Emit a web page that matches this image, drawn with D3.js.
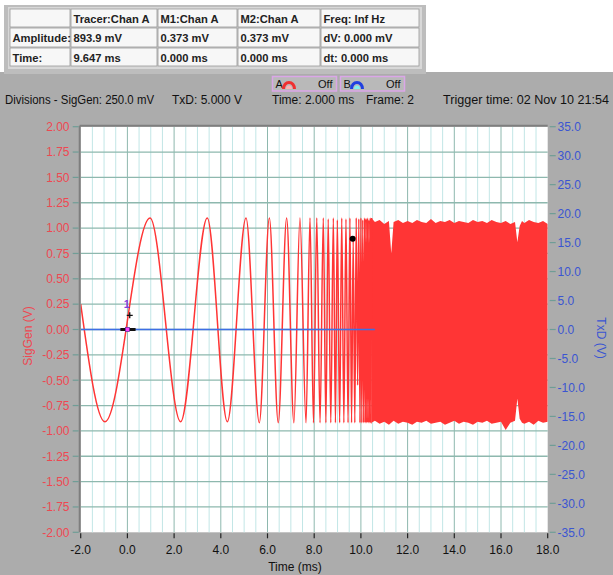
<!DOCTYPE html>
<html><head><meta charset="utf-8">
<script src="https://cdn.jsdelivr.net/npm/d3@7"></script>
<style>
body{margin:0;padding:0;background:#fff;}
svg{display:block;font-family:"Liberation Sans",Arial,sans-serif;}
</style></head>
<body>
<svg id="c" width="613" height="575"></svg>
<script>
// ---------------- DATA ----------------
const xTicks = [-2, 0, 2, 4, 6, 8, 10, 12, 14, 16, 18];
const yLeftTicks = [2.00, 1.75, 1.50, 1.25, 1.00, 0.75, 0.50, 0.25, 0.00, -0.25, -0.50, -0.75, -1.00, -1.25, -1.50, -1.75, -2.00];
const yRightTicks = [35, 30, 25, 20, 15, 10, 5, 0, -5, -10, -15, -20, -25, -30, -35];
// SigGen waveform turning points (ms, V)
const sigTime = [-2.0, -0.96, 0.97, 2.28, 3.42, 4.28, 5.08, 5.65, 6.08, 6.46, 6.82, 7.13, 7.39, 7.65, 7.82,
  7.97, 8.11, 8.25, 8.39, 8.50, 8.60, 8.71, 8.82, 8.91, 8.99, 9.09, 9.18, 9.27, 9.36, 9.45, 9.53, 9.60, 9.67,
  9.74, 9.80, 9.86, 9.91, 9.96, 10.00, 10.04, 10.08, 10.12, 10.16, 10.19, 10.22, 10.25, 10.28, 10.31, 10.34,
  10.37, 10.40, 10.43, 10.46];
const sigValue = [0.25, -0.91, 1.10, -0.91, 1.10, -0.91, 1.10, -0.92, 1.10, -0.92, 1.10, -0.92, 1.10, -0.92, 1.10,
  -0.92, 1.10, -0.92, 1.10, -0.92, 1.09, -0.92, 1.10, -0.92, 1.08, -0.92, 1.10, -0.92, 1.09, -0.92, 1.10, -0.92, 0.89,
  -0.92, 1.10, -0.55, 1.09, -0.92, 1.10, -0.92, 1.08, -0.92, 1.10, -0.92, 1.09, -0.92, 1.10, -0.92, 1.08,
  -0.92, 1.10, -0.92, 1.10];
// dense part envelope (ms, upper V, lower V)
const envTime  = [10.45, 10.6, 10.8, 11.0, 11.2, 11.3, 11.4, 11.6, 11.8, 12.0, 12.2, 12.4, 12.6, 12.8, 13.0, 13.2, 13.4, 13.6, 13.8, 14.0, 14.2,
  14.4, 14.6, 14.8, 15.0, 15.2, 15.4, 15.6, 15.8, 16.0, 16.2, 16.4, 16.6, 16.7, 16.8, 16.9, 17.0, 17.2, 17.4, 17.6, 17.8, 18.0];
const envUpper = [1.10, 1.06, 1.08, 1.04, 1.07, 0.75, 1.06, 1.08, 1.05, 1.07, 1.05, 1.08, 1.06, 1.05, 1.09, 1.05, 1.07, 1.06, 1.08, 1.05, 1.07,
  1.06, 1.05, 1.08, 1.06, 1.07, 1.05, 1.08, 1.06, 1.05, 1.07, 1.04, 1.06, 0.86, 1.02, 1.07, 1.05, 1.08, 1.06, 1.05, 1.07, 1.04];
const envLower = [-0.92, -0.90, -0.93, -0.91, -0.94, -0.92, -0.90, -0.93, -0.91, -0.92, -0.94, -0.91, -0.92, -0.90, -0.93, -0.92, -0.91, -0.94, -0.92, -0.90, -0.93,
  -0.91, -0.92, -0.94, -0.91, -0.92, -0.90, -0.93, -0.92, -0.91, -0.99, -0.92, -0.90, -0.68, -0.88, -0.92, -0.93, -0.91, -0.94, -0.90, -0.92, -0.91];
// TxD trace (ms, V)
const txdTime = [-2.0, 10.6];
const txdValue = [0, 0];
// tracer & marker
const tracer = {t: 9.647, v: 0.8939};
const tableHeader = ["", "Tracer:Chan A", "M1:Chan A", "M2:Chan A", "Freq: Inf Hz"];
const tableRows = [["Amplitude:", "893.9 mV", "0.373 mV", "0.373 mV", "dV: 0.000 mV"],
                   ["Time:", "9.647 ms", "0.000 ms", "0.000 ms", "dt:  0.000 ms"]];
const divisionTexts = [["Divisions -  SigGen: 250.0 mV", 5, 149], ["TxD: 5.000 V", 172, null], ["Time: 2.000 ms", 272, null], ["Frame: 2", 366, null], ["Trigger time: 02 Nov 10 21:54", 443, 166]];

// ---------------- LAYOUT ----------------
const svg = d3.select("#c");
const L = 80.7, R = 547.7, T = 126.7, B = 532.3;
const x = d3.scaleLinear().domain([-2, 18]).range([L, R]);
const y = d3.scaleLinear().domain([-2, 2]).range([B, T]);
const y2 = d3.scaleLinear().domain([-35, 35]).range([B, T]);

const RED = "#ff3535", LRED = "#ee4852", BLUE = "#3a55d2";

// window background
svg.append("rect").attr("x", 0).attr("y", 72).attr("width", 613).attr("height", 503).attr("fill", "#acacac");

// table
const colX = [10, 71, 158, 238, 321, 420];
const rowY = [9, 28, 48, 67];
svg.append("rect").attr("x", 4).attr("y", 5).attr("width", 422).attr("height", 69).attr("fill", "#bdbdbd");
svg.append("rect").attr("x", 8).attr("y", 7).attr("width", 414).attr("height", 62).attr("fill", "#d8d8d8");
const allRows = [tableHeader, ...tableRows];
allRows.forEach((row, ri) => {
  row.forEach((txt, ci) => {
    svg.append("rect").attr("x", colX[ci]).attr("y", rowY[ri])
      .attr("width", colX[ci + 1] - colX[ci] - 1).attr("height", rowY[ri + 1] - rowY[ri] - 1)
      .attr("fill", "#f7f7f7").attr("stroke", "#9a9a9a").attr("stroke-width", 0.8);
    svg.append("text").attr("x", colX[ci] + 2.5).attr("y", rowY[ri] + 14)
      .attr("font-size", 11.2).attr("font-weight", "bold").attr("fill", "#222").text(txt);
  });
});

// legend boxes
function legendBox(x0, label, c1, c2) {
  svg.append("rect").attr("x", x0).attr("y", 76.5).attr("width", 64).attr("height", 14.5)
    .attr("fill", "#b9b9b9").attr("stroke", "#dba6e8").attr("stroke-width", 1.5);
  svg.append("text").attr("x", x0 + 3).attr("y", 88).attr("font-size", 11).attr("fill", "#111").text(label);
  svg.append("path").attr("d", `M${x0 + 11},${89} a5,6 0 0 1 11,0`).attr("fill", "none").attr("stroke", c1).attr("stroke-width", 3);
  svg.append("path").attr("d", `M${x0 + 13.5},${89} a3,3.5 0 0 1 6,0`).attr("fill", c2).attr("stroke", "none");
  svg.append("text").attr("x", x0 + 60).attr("y", 88).attr("text-anchor", "end").attr("font-size", 11).attr("fill", "#111").text("Off");
}
legendBox(272.5, "A", "#f03030", "#ffb0b0");
legendBox(340.5, "B", "#2040e0", "#80f0f0");

// divisions line
divisionTexts.forEach(([t, px, w]) => {
  const tx = svg.append("text").attr("x", px).attr("y", 104).attr("font-size", 12).attr("fill", "#111").text(t);
  if (w) tx.attr("textLength", w).attr("lengthAdjust", "spacingAndGlyphs");
});

// plot area
svg.append("rect").attr("x", L).attr("y", T).attr("width", R - L).attr("height", B - T).attr("fill", "#fff");
// minor vertical grid
const minorX = d3.range(-2, 18.001, 0.5).filter(v => Math.abs(v / 2 - Math.round(v / 2)) > 1e-6);
svg.append("g").selectAll("line").data(minorX).join("line")
  .attr("x1", d => x(d)).attr("x2", d => x(d)).attr("y1", T).attr("y2", B)
  .attr("stroke", "#c2e6e6").attr("stroke-width", 1);
// major grid
svg.append("g").selectAll("line").data(xTicks.slice(1, -1)).join("line")
  .attr("x1", d => x(d)).attr("x2", d => x(d)).attr("y1", T).attr("y2", B)
  .attr("stroke", "#8eb8ae").attr("stroke-width", 1);
svg.append("g").selectAll("line").data(yLeftTicks.slice(1, -1)).join("line")
  .attr("x1", L).attr("x2", R).attr("y1", d => y(d)).attr("y2", d => y(d))
  .attr("stroke", "#8eb8ae").attr("stroke-width", 1.3);

const txdData = txdTime.map((t, i) => ({t, v: txdValue[i]}));
const sigData = sigTime.map((t, i) => ({t, v: sigValue[i]}));
const envData = envTime.map((t, i) => ({t, u: envUpper[i], l: envLower[i]}));
svg.append("clipPath").attr("id", "pc").append("rect").attr("x", L).attr("y", T).attr("width", R - L).attr("height", B - T);
const pg = svg.append("g").attr("clip-path", "url(#pc)");
pg.append("path").datum(envData)
  .attr("d", d3.area().x(d => x(d.t)).y0(d => y(d.l)).y1(d => y(d.u)))
  .attr("fill", RED);
pg.append("path").datum(sigData)
  .attr("d", d3.line().x(d => x(d.t)).y(d => y(d.v)).curve(d3.curveMonotoneX))
  .attr("fill", "none").attr("stroke", RED).attr("stroke-width", 1.5);
pg.append("path").datum(txdData)
  .attr("d", d3.line().x(d => x(d.t)).y(d => y2(d.v)))
  .attr("fill", "none").attr("stroke", "#3d6fe6").attr("stroke-width", 1.3);

// markers
pg.append("rect").attr("x", x(-0.3)).attr("y", y(0) - 1.5).attr("width", x(0.35) - x(-0.3)).attr("height", 3).attr("fill", "#111");
pg.append("rect").attr("x", x(0) - 2).attr("y", y(0) - 2).attr("width", 4).attr("height", 4).attr("fill", "#ff40ff").attr("stroke", "#7030a0").attr("stroke-width", 0.8);
pg.append("path").attr("d", `M${x(0.1) - 3},${y(0.14)}h6M${x(0.1)},${y(0.14) - 3}v6`).attr("stroke", "#111").attr("stroke-width", 1.3);
svg.append("text").attr("x", x(0) - 0.5).attr("y", y(0.21)).attr("text-anchor", "middle").attr("font-size", 11).attr("font-weight", "bold").attr("fill", "#8040e0").text("1");
pg.append("circle").attr("cx", x(tracer.t)).attr("cy", y(tracer.v)).attr("r", 3).attr("fill", "#000");

// frame sunken edges
svg.append("line").attr("x1", L - 1).attr("x2", L - 1).attr("y1", T - 1).attr("y2", B).attr("stroke", "#7e7e7e").attr("stroke-width", 2);
svg.append("line").attr("x1", L - 1).attr("x2", R).attr("y1", T - 1).attr("y2", T - 1).attr("stroke", "#7e7e7e").attr("stroke-width", 2);

// left axis
const gl = svg.append("g");
gl.selectAll("line").data(yLeftTicks).join("line")
  .attr("x1", L - 8).attr("x2", L - 2).attr("y1", d => y(d)).attr("y2", d => y(d))
  .attr("stroke", "#6f9d96").attr("stroke-width", 1.2);
gl.selectAll("text").data(yLeftTicks).join("text")
  .attr("x", 69.5).attr("y", d => y(d) + 4.3).attr("text-anchor", "end")
  .attr("font-size", 12).attr("fill", LRED).text(d => d.toFixed(2));
// right axis
const gr = svg.append("g");
gr.selectAll("line").data(yRightTicks).join("line")
  .attr("x1", R + 2).attr("x2", R + 8).attr("y1", d => y2(d)).attr("y2", d => y2(d))
  .attr("stroke", "#6f9d96").attr("stroke-width", 1.2);
gr.selectAll("text").data(yRightTicks).join("text")
  .attr("x", 557.5).attr("y", d => y2(d) + 4.3)
  .attr("font-size", 12).attr("fill", BLUE).text(d => d.toFixed(1));
// bottom axis
const gb = svg.append("g");
gb.selectAll("line").data(xTicks).join("line")
  .attr("x1", d => x(d)).attr("x2", d => x(d)).attr("y1", B + 1).attr("y2", B + 6)
  .attr("stroke", "#222").attr("stroke-width", 1.2);
gb.selectAll("text").data(xTicks).join("text")
  .attr("x", d => x(d)).attr("y", 553.5).attr("text-anchor", "middle")
  .attr("font-size", 12).attr("fill", "#111").text(d => d.toFixed(1));

// axis titles
svg.append("text").attr("x", 295).attr("y", 571).attr("text-anchor", "middle").attr("font-size", 12).attr("fill", "#111").text("Time (ms)");
svg.append("text").attr("transform", "translate(32,336) rotate(-90)").attr("text-anchor", "middle").attr("font-size", 12).attr("fill", LRED).text("SigGen (V)");
svg.append("text").attr("transform", "translate(597,338) rotate(90)").attr("text-anchor", "middle").attr("font-size", 12).attr("fill", BLUE).text("TxD (V)");
</script>
</body></html>
